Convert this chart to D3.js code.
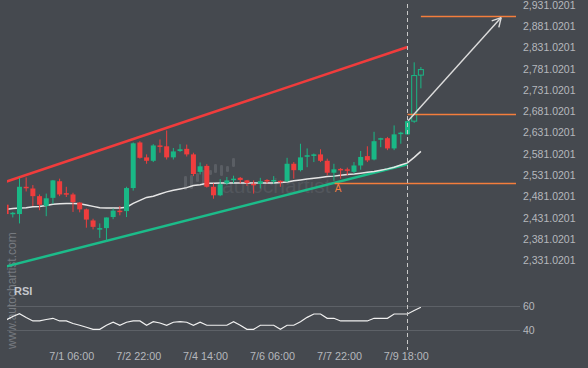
<!DOCTYPE html>
<html>
<head>
<meta charset="utf-8">
<script src="https://cdn.jsdelivr.net/npm/d3@7/dist/d3.min.js"></script>
<style>
  body { margin: 0; background: #45494f; }
  svg { display: block; font-family: "Liberation Sans", Arial, sans-serif; }
</style>
</head>
<body>
<div id="chart"></div>
<script>
// candles, 4h each
const OPEN  = [2462,2442,2440,2504,2500,2482,2459,2478,2517,2489,2486,2467,2451,2425,2405,2407,2433,2448,2447,2501,
               2608,2573,2565,2601,2599,2573,2588,2593,2580,2539,2553,2504,2484,2512,2522,2525,2519,2511,2511,2520,
               2519,2518,2517,2558,2543,2576,2579,2580,2565,2537,2546,2545,2539,2554,2576,2568,2615,2618,2594,2630,
               2627,2658,2766];
const HIGH  = [2465,2445,2525,2526,2508,2486,2488,2520,2523,2504,2490,2468,2453,2429,2418,2432,2453,2459,2504,2608,
               2611,2580,2604,2615,2636,2595,2604,2603,2584,2561,2557,2512,2522,2527,2530,2527,2520,2519,2525,2522,
               2529,2519,2572,2562,2605,2594,2582,2592,2570,2558,2548,2549,2562,2588,2599,2633,2619,2621,2648,2633,
               2659,2796,2785];
const LOW   = [2437,2432,2418,2493,2459,2449,2435,2464,2482,2480,2445,2444,2408,2404,2384,2376,2428,2437,2433,2495,
               2570,2558,2562,2584,2568,2568,2586,2575,2529,2533,2502,2476,2482,2508,2512,2512,2506,2488,2500,2512,
               2511,2504,2515,2523,2540,2550,2562,2562,2531,2518,2523,2531,2535,2544,2562,2566,2597,2590,2590,2605,
               2626,2654,2735];
const CLOSE = [2440,2443,2504,2501,2482,2462,2477,2519,2486,2487,2468,2451,2427,2410,2407,2432,2448,2447,2501,2606,
               2572,2565,2601,2600,2573,2587,2592,2580,2534,2552,2504,2484,2510,2519,2523,2520,2513,2510,2517,2519,
               2520,2516,2558,2543,2573,2578,2580,2565,2537,2545,2544,2543,2554,2574,2566,2611,2618,2594,2627,2631,
               2658,2765,2779];
const MA    = [2451,2453,2454,2455,2457,2458,2460,2463,2464,2465,2465,2464,2461,2458,2455,2454,2454,2454,2456,2465,
               2472,2479,2482,2487,2492,2496,2499,2502,2507,2509,2512,2512,2513,2513,2513,2513,2513,2513,2513,2513,
               2513,2514,2515,2518,2520,2522,2524,2526,2528,2529,2531,2533,2534,2536,2538,2540,2543,2546,2550,2555,
               2560,2573,2587];
const RSI   = [48.6,51.5,53.8,50.7,47.8,47.8,49.0,50.0,47.8,47.8,45.7,44.2,42.5,40.8,40.8,44.2,46.7,44.2,46.7,47.8,
               47.8,44.2,47.2,46.1,44.2,46.7,47.2,46.7,44.2,46.7,44.2,44.2,44.2,44.2,47.2,44.2,40.8,40.8,44.2,44.2,
               44.2,40.8,44.2,44.2,47.2,50.8,53.6,53.6,50.0,50.0,47.8,47.8,47.8,47.8,47.8,50.0,50.0,50.0,53.6,53.6,
               53.6,56.5,59.2];
const HOLLOW_FROM = 61;
const PATTERN_END = 60;

const PRICE_TICKS = [2331.0201,2381.0201,2431.0201,2481.0201,2531.0201,2581.0201,2631.0201,2681.0201,
                     2731.0201,2781.0201,2831.0201,2881.0201,2931.0201];
const RSI_TICKS = [40, 60];
const TIME_TICKS = [10, 20, 30, 40, 50, 60];
const TIME_LABELS = ["7/1 06:00","7/2 22:00","7/4 14:00","7/6 06:00","7/7 22:00","7/9 18:00"];

// pattern lines: [candle index, price]
const CHANNEL_TOP = [[0, 2516], [60, 2832]];
const CHANNEL_BOTTOM = [[0, 2317], [60, 2557]];
const SUPPORT = 2513, SUPPORT_FROM = 49.1;
const BREAKOUT = 2675, BREAKOUT_FROM = 60;
const TARGET = 2904, TARGET_FROM = 62;
const ARROW = [[60.1, 2659], [74, 2901]];

const W = 588, H = 368;
const plotLeft = 7, plotRight = 516;

const svg = d3.select('#chart').append('svg')
    .attr('width', W).attr('height', H);

svg.append('rect').attr('width', W).attr('height', H).attr('fill', '#45494f');

const x = d3.scaleLinear().domain([0, 60]).range([6.1, 407.5]);
const y = d3.scaleLinear().domain([2331.0201, 2931.0201]).range([260.5, 4.8]);
const yRsi = d3.scaleLinear().domain([40, 60]).range([330.3, 306.3]);

svg.append('clipPath').attr('id', 'clip')
  .append('rect').attr('x', plotLeft).attr('y', 0).attr('width', plotRight - plotLeft).attr('height', H);

// watermark
const wm = svg.append('g');
const LOGO = [[184, 176, 190], [190, 175, 189], [196, 173, 182], [202, 170, 186], [209, 170, 175],
              [214, 164, 173], [220, 165, 176], [226, 166, 172], [232, 158, 167]];
wm.selectAll('rect').data(LOGO).enter().append('rect')
    .attr('x', d => d[0]).attr('y', d => d[1])
    .attr('width', 3).attr('height', d => d[2] - d[1])
    .attr('rx', 1.2).attr('fill', '#5a5e64');
wm.append('text').attr('x', 222).attr('y', 193)
    .attr('font-size', 21).attr('fill', '#52565c').text('autochartist');
svg.append('text')
    .attr('transform', 'translate(16,349) rotate(-90)')
    .attr('font-size', 12).attr('fill', '#767a80')
    .text('www.autochartist.com');

const plot = svg.append('g').attr('clip-path', 'url(#clip)');

// channel
const line = d3.line().x(d => x(d[0])).y(d => y(d[1]));
plot.append('path').datum(CHANNEL_TOP).attr('d', line)
    .attr('stroke', '#f03c3c').attr('stroke-width', 2.5).attr('fill', 'none');
plot.append('path').datum(CHANNEL_BOTTOM).attr('d', line)
    .attr('stroke', '#1cbc8a').attr('stroke-width', 2.5).attr('fill', 'none');

// moving average
plot.append('path').datum(MA)
    .attr('d', d3.line().x((d, i) => x(i)).y(d => y(d)))
    .attr('stroke', '#e6e6e6').attr('stroke-width', 1.5).attr('fill', 'none');

// candles
const GREEN = '#19b886', RED = '#f03d3d';
const idx = d3.range(OPEN.length);
const candle = plot.selectAll('g.c').data(idx).enter().append('g');
candle.append('line')
    .attr('x1', i => x(i)).attr('x2', i => x(i))
    .attr('y1', i => y(HIGH[i])).attr('y2', i => y(LOW[i]))
    .attr('stroke', i => CLOSE[i] >= OPEN[i] ? GREEN : RED).attr('stroke-width', 1);
candle.append('rect')
    .attr('x', i => x(i) - 2.5)
    .attr('y', i => y(Math.max(OPEN[i], CLOSE[i])))
    .attr('width', 5)
    .attr('height', i => Math.max(1.5, Math.abs(y(OPEN[i]) - y(CLOSE[i]))))
    .attr('fill', i => i >= HOLLOW_FROM ? '#45494f' : (CLOSE[i] >= OPEN[i] ? GREEN : RED))
    .attr('stroke', i => i >= HOLLOW_FROM ? GREEN : 'none')
    .attr('stroke-width', 1);

// levels
const ORANGE = '#f47e3c';
[[SUPPORT, SUPPORT_FROM], [BREAKOUT, BREAKOUT_FROM], [TARGET, TARGET_FROM]].forEach(l => {
  plot.append('line')
      .attr('x1', x(l[1])).attr('x2', plotRight)
      .attr('y1', Math.round(y(l[0])) + 0.5).attr('y2', Math.round(y(l[0])) + 0.5)
      .attr('stroke', ORANGE).attr('stroke-width', 1.5);
});
svg.append('text').attr('x', x(SUPPORT_FROM) + 3.5).attr('y', y(SUPPORT) + 9)
    .attr('text-anchor', 'middle').attr('font-size', 10).attr('fill', ORANGE).text('A');

// projection arrow
const a0 = [x(ARROW[0][0]), y(ARROW[0][1])], a1 = [x(ARROW[1][0]), y(ARROW[1][1])];
const ang = Math.atan2(a1[1] - a0[1], a1[0] - a0[0]);
plot.append('line').attr('x1', a0[0]).attr('y1', a0[1]).attr('x2', a1[0]).attr('y2', a1[1])
    .attr('stroke', '#dcdcdc').attr('stroke-width', 1.4);
[0.5, -0.5].forEach(da => {
  plot.append('line').attr('x1', a1[0]).attr('y1', a1[1])
      .attr('x2', a1[0] - 10 * Math.cos(ang + da)).attr('y2', a1[1] - 10 * Math.sin(ang + da))
      .attr('stroke', '#dcdcdc').attr('stroke-width', 1.4);
});

// RSI pane
svg.selectAll('line.rg').data(RSI_TICKS).enter().append('line')
    .attr('x1', plotLeft).attr('x2', 520)
    .attr('y1', d => Math.round(yRsi(d)) + 0.5).attr('y2', d => Math.round(yRsi(d)) + 0.5)
    .attr('stroke', '#5d6167').attr('stroke-width', 1);
plot.append('path').datum(RSI)
    .attr('d', d3.line().x((d, i) => x(i)).y(d => yRsi(d)))
    .attr('stroke', '#f0f0f0').attr('stroke-width', 1.2).attr('fill', 'none');
svg.append('text').attr('x', 14).attr('y', 295).attr('font-size', 11).attr('font-weight', 'bold')
    .attr('fill', '#c4c7cc').text('RSI');

// pattern end marker
svg.append('line').attr('x1', x(PATTERN_END)).attr('x2', x(PATTERN_END))
    .attr('y1', 4).attr('y2', 350)
    .attr('stroke', '#c8c8c8').attr('stroke-width', 1).attr('stroke-dasharray', '4,3');

// axes labels
const LABEL = '#b5b8bd';
svg.selectAll('text.p').data(PRICE_TICKS).enter().append('text')
    .attr('x', 523).attr('y', d => y(d)).attr('dy', '0.36em')
    .attr('font-size', 10.5).attr('fill', LABEL)
    .text(d => d3.format(',.4f')(d));
svg.selectAll('text.r').data(RSI_TICKS).enter().append('text')
    .attr('x', 523).attr('y', d => yRsi(d)).attr('dy', '0.36em')
    .attr('font-size', 10.5).attr('fill', LABEL).text(d => d);
svg.selectAll('text.t').data(TIME_TICKS).enter().append('text')
    .attr('x', d => x(d) - 1.2).attr('y', 360)
    .attr('text-anchor', 'middle').attr('font-size', 10.8).attr('fill', LABEL)
    .text((d, i) => TIME_LABELS[i]);
</script>
</body>
</html>
